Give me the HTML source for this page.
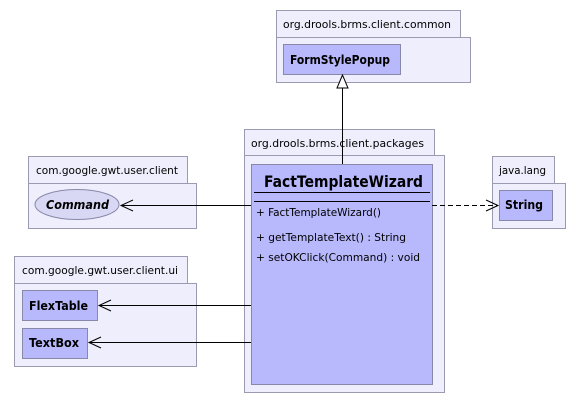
<!DOCTYPE html>
<html><head><style>body{margin:0;background:#fff}svg{display:block}text{font-family:"DejaVu Sans","Liberation Sans",sans-serif}</style></head><body>
<svg width="580" height="403" xmlns="http://www.w3.org/2000/svg">
<g fill="#eeeefc" stroke="#9a9ab0" stroke-width="1">
<rect x="276.5" y="10.5" width="184" height="27"/><rect x="276.5" y="37.5" width="194" height="45"/>
<rect x="244.5" y="129.5" width="190" height="26"/><rect x="244.5" y="155.5" width="200" height="237"/>
<rect x="28.5" y="156.5" width="159" height="27"/><rect x="28.5" y="183.5" width="168" height="45"/>
<rect x="14.5" y="256.5" width="173" height="27"/><rect x="14.5" y="283.5" width="182" height="83"/>
<rect x="492.5" y="156.5" width="62" height="27"/><rect x="492.5" y="183.5" width="73" height="45"/>
</g>
<g font-size="11" fill="#000" lengthAdjust="spacingAndGlyphs">
<text x="283" y="28" textLength="168" lengthAdjust="spacingAndGlyphs">org.drools.brms.client.common</text>
<text x="251" y="147" textLength="173" lengthAdjust="spacingAndGlyphs">org.drools.brms.client.packages</text>
<text x="36" y="174" textLength="142" lengthAdjust="spacingAndGlyphs">com.google.gwt.user.client</text>
<text x="22" y="274" textLength="156" lengthAdjust="spacingAndGlyphs">com.google.gwt.user.client.ui</text>
<text x="499" y="174" textLength="47" lengthAdjust="spacingAndGlyphs">java.lang</text>
</g>
<g fill="#b8b8fc" stroke="#8888a8">
<rect x="283.5" y="44.5" width="117" height="30"/>
<rect x="251.5" y="164.5" width="181" height="220"/>
<ellipse cx="77" cy="204.5" rx="42" ry="15" fill="#d8d8f4"/>
<rect x="22.5" y="290.5" width="75" height="30"/>
<rect x="22.5" y="328.5" width="65" height="30"/>
<rect x="499.5" y="190.5" width="53" height="30"/>
</g>
<g font-weight="bold" font-size="12">
<text x="290" y="64" textLength="100" lengthAdjust="spacingAndGlyphs">FormStylePopup</text>
<text x="29" y="310" textLength="59" lengthAdjust="spacingAndGlyphs">FlexTable</text>
<text x="29" y="347" textLength="50" lengthAdjust="spacingAndGlyphs">TextBox</text>
<text x="505" y="209" textLength="38" lengthAdjust="spacingAndGlyphs">String</text>
<text x="46" y="209" font-style="italic" textLength="63" lengthAdjust="spacingAndGlyphs">Command</text>
<text x="264" y="187" font-size="16" textLength="159" lengthAdjust="spacingAndGlyphs">FactTemplateWizard</text>
</g>
<g stroke="#000" fill="none">
<line x1="254" y1="192.5" x2="430" y2="192.5"/><line x1="254" y1="201.5" x2="430" y2="201.5"/>
<line x1="342.5" y1="164" x2="342.5" y2="88"/>
<polygon points="342.5,75 337,88 348,88" fill="#fff"/>
<line x1="251" y1="205.5" x2="121" y2="205.5"/><polyline points="133,200 121,205.5 133,211"/>
<line x1="251" y1="305.5" x2="99" y2="305.5"/><polyline points="111,300 99,305.5 111,311"/>
<line x1="251" y1="342.5" x2="89" y2="342.5"/><polyline points="101,337 89,342.5 101,348"/>
<line x1="432" y1="205.5" x2="497" y2="205.5" stroke-dasharray="5,3"/><polyline points="486,200 498,205.5 486,211"/>
</g>
<g font-size="11">
<text x="256" y="216" textLength="125" lengthAdjust="spacingAndGlyphs">+ FactTemplateWizard()</text>
<text x="256" y="241" textLength="150" lengthAdjust="spacingAndGlyphs">+ getTemplateText() : String</text>
<text x="256" y="261" textLength="164" lengthAdjust="spacingAndGlyphs">+ setOKClick(Command) : void</text>
</g>
</svg>
</body></html>
